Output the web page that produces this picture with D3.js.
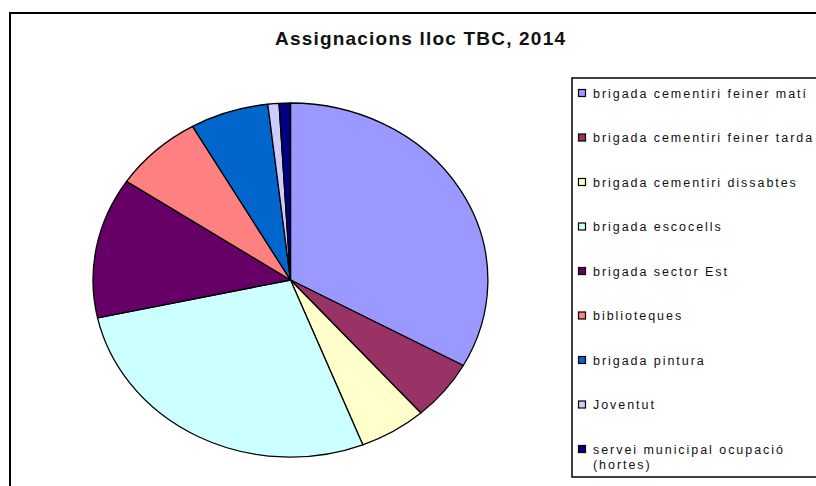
<!DOCTYPE html>
<html lang="ca">
<head>
<meta charset="UTF-8">
<title>Assignacions lloc TBC, 2014</title>
<style>
  body, html { margin: 0; overflow: hidden; background: #fff; }
  svg { display: block; font-family: "Liberation Sans", Arial, sans-serif; }
  .legend text { font-size: 12.5px; letter-spacing: 1.95px; fill: #111; }
</style>
</head>
<body>
<script src="https://d3js.org/d3.v7.min.js"></script>
<script>
// data
const categories = [
  "brigada cementiri feiner matí",
  "brigada cementiri feiner tarda",
  "brigada cementiri dissabtes",
  "brigada escocells",
  "brigada sector Est",
  "biblioteques",
  "brigada pintura",
  "Joventut",
  "servei municipal ocupació (hortes)"
];
const values = [36, 6, 6, 30, 14, 8, 7, 1, 1];
const colors = ["#9999FF", "#993366", "#FFFFCC", "#CCFFFF", "#660066",
                "#FF8080", "#0066CC", "#CCCCFF", "#000080"];
const title = "Assignacions lloc TBC, 2014";

const width = 816, height = 486;

const svg = d3.create("svg")
    .attr("width", width)
    .attr("height", height);

// chart area border (runs off the right and bottom edge)
svg.append("rect")
    .attr("x", 10).attr("y", 13)
    .attr("width", 900).attr("height", 600)
    .attr("fill", "#fff")
    .attr("stroke", "#000")
    .attr("stroke-width", 2);

svg.append("text")
    .attr("x", 275).attr("y", 45)
    .attr("font-size", 19)
    .attr("font-weight", "bold")
    .attr("fill", "#111")
    .attr("textLength", 290)
    .attr("lengthAdjust", "spacing")
    .text(title);

// elliptical pie: unit arcs scaled into an ellipse
const cx = 290.5, cy = 280, rx = 197.5, ry = 177;

const pie = d3.pie().sort(null).value(d => d);
const arc = d3.arc().innerRadius(0).outerRadius(1);

const pieG = svg.append("g")
    .attr("transform", `translate(${cx},${cy}) scale(${rx},${ry})`);

pieG.selectAll("path")
    .data(pie(values))
    .join("path")
    .attr("d", arc)
    .attr("fill", (d, i) => colors[i])
    .attr("stroke", "#000")
    .attr("stroke-width", 1.3)
    .attr("vector-effect", "non-scaling-stroke")
    .attr("stroke-linejoin", "round");

// legend
const legendTop = 93, legendStep = 44.5;

svg.append("rect")
    .attr("x", 572).attr("y", 78)
    .attr("width", 300).attr("height", 399)
    .attr("fill", "#fff")
    .attr("stroke", "#000")
    .attr("stroke-width", 1.5);

const legend = svg.append("g").attr("class", "legend");

const items = legend.selectAll("g")
    .data(categories)
    .join("g")
    .attr("transform", (d, i) => `translate(578,${legendTop + i * legendStep})`);

items.append("rect")
    .attr("x", 0.5).attr("y", -3.5)
    .attr("width", 7).attr("height", 7)
    .attr("fill", (d, i) => colors[i])
    .attr("stroke", "#000")
    .attr("stroke-width", 1.2);

items.append("text")
    .attr("x", 15)
    .attr("y", 4.5)
    .each(function (d) {
        // the last label wraps onto two lines
        const t = d3.select(this);
        const m = d.match(/^(.*) (\(.*\))$/);
        if (m) {
            t.append("tspan").attr("x", 15).attr("dy", 0).text(m[1]);
            t.append("tspan").attr("x", 15).attr("dy", 15).text(m[2]);
        } else {
            t.text(d);
        }
    });

document.body.appendChild(svg.node());
</script>
</body>
</html>
